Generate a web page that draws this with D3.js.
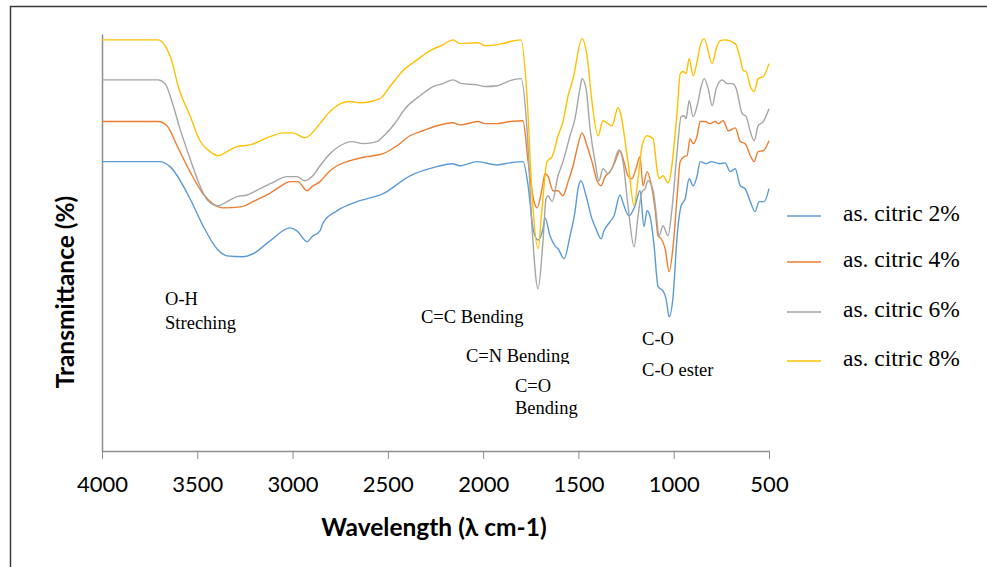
<!DOCTYPE html>
<html><head><meta charset="utf-8">
<script src="https://cdn.jsdelivr.net/npm/d3@7"></script>
<style>body{margin:0;background:#fff}svg{display:block}</style>
</head><body>
<script>
// wavenumber (cm-1) and transmittance (relative %) pairs
const wn2 = [4000,3696,3643,3538,3470,3397,3344,3260,3208,3118,3013,2977,2924,2898,2856,2840,2767,2662,2525,2384,2242,2163,2121,2032,1927,1859,1791,1764,1738,1712,1686,1675,1649,1623,1607,1575,1544,1518,1502,1487,1460,1429,1408,1381,1366,1334,1313,1282,1261,1235,1203,1177,1156,1140,1124,1103,1082,1056,1040,1024,1003,982,961,940,919,898,877,861,830,803,777,756,730,704,677,651,625,598,573,552,525,500];
const t2  = [69.4,69.4,68.2,60.5,54.0,48.5,46.8,46.6,47.3,50.4,53.5,52.8,50.2,51.4,52.8,54.7,57.6,59.8,61.7,66.0,68.2,68.9,68.4,69.4,68.6,69.1,69.4,63.6,53.3,50.6,53.3,55.9,51.6,49.2,48.5,46.1,51.6,57.4,62.9,64.8,61.2,55.7,53.3,50.9,52.8,55.0,56.4,61.4,58.8,56.4,58.8,62.4,53.8,57.6,56.2,49.2,39.4,38.4,36.5,32.2,37.2,51.6,58.8,60.5,65.3,63.6,66.0,69.4,68.9,69.4,69.1,68.9,69.1,67.0,67.7,63.6,62.9,59.8,57.4,59.8,59.8,62.9];

const wn4 = [4000,3706,3659,3606,3538,3470,3418,3365,3265,3208,3134,3066,3013,2972,2924,2898,2856,2819,2767,2699,2609,2525,2452,2384,2316,2242,2158,2121,2027,1990,1927,1859,1791,1764,1733,1717,1691,1675,1659,1633,1607,1581,1554,1528,1507,1481,1455,1429,1402,1381,1360,1334,1308,1282,1261,1240,1219,1198,1177,1161,1140,1119,1098,1082,1066,1045,1024,1003,982,966,945,930,914,898,877,861,835,809,782,767,740,714,677,651,625,598,578,557,530,500];
const t4  = [79.0,79.0,78.0,73.2,67.0,61.7,59.3,58.3,58.6,59.8,61.4,63.4,64.6,64.6,62.4,63.4,64.6,66.5,68.4,69.6,70.6,71.3,73.2,75.6,76.8,78.0,78.7,78.2,79.0,78.5,78.5,79.0,79.2,69.4,59.8,58.3,62.9,66.5,65.8,62.4,62.4,61.2,64.6,68.4,72.5,76.3,73.2,69.4,64.8,63.6,65.8,67.0,69.4,72.0,69.4,66.0,65.3,67.7,70.6,63.6,67.0,64.1,58.1,51.6,50.9,48.5,43.0,49.2,61.2,69.4,70.6,70.8,74.9,73.7,75.6,79.0,79.0,78.5,79.0,78.5,79.2,76.8,77.5,74.2,73.7,70.8,69.4,71.8,72.0,74.4];

const wn6 = [4000,3706,3669,3633,3591,3538,3486,3444,3391,3344,3292,3239,3171,3108,3029,2977,2935,2898,2856,2804,2751,2688,2630,2557,2525,2473,2400,2331,2263,2211,2158,2111,2032,1990,1927,1896,1859,1801,1770,1743,1712,1686,1670,1659,1638,1607,1581,1544,1518,1492,1481,1460,1439,1413,1392,1371,1345,1324,1287,1266,1240,1208,1187,1166,1150,1135,1108,1093,1077,1056,1030,1009,982,961,945,935,919,898,877,856,840,819,798,777,746,719,693,672,641,620,598,578,557,530,500];
const t6  = [89.0,89.0,88.1,83.8,77.3,70.1,63.6,60.0,58.8,59.8,61.0,61.4,62.9,64.3,65.8,65.8,64.8,65.8,68.4,71.3,73.2,74.2,73.7,74.2,75.4,78.0,82.6,85.2,87.4,88.1,89.0,88.1,87.8,87.4,87.6,88.1,88.8,89.3,77.3,53.3,38.9,50.2,60.5,61.2,59.8,66.0,69.4,75.6,79.7,86.9,89.3,86.9,77.3,69.4,64.8,67.7,66.5,67.7,72.2,69.4,58.8,49.0,56.4,62.2,62.9,64.8,62.4,57.4,51.6,54.0,51.6,58.1,71.8,80.2,80.4,79.7,84.0,80.2,82.8,87.4,89.3,86.9,82.8,86.9,89.0,88.1,88.1,86.9,80.9,80.2,76.6,74.4,78.0,79.0,82.1];

const wn8 = [4000,3706,3669,3633,3601,3538,3486,3433,3391,3344,3292,3223,3118,3050,2998,2935,2856,2814,2767,2699,2646,2541,2489,2421,2347,2279,2211,2158,2121,2027,1990,1896,1859,1801,1770,1743,1712,1691,1665,1638,1607,1581,1554,1528,1481,1455,1429,1397,1371,1324,1292,1240,1208,1187,1166,1140,1108,1088,1077,1056,1030,982,966,951,935,919,898,877,861,840,798,777,756,730,677,651,635,620,598,578,557,530,500];
const t8  = [98.6,98.6,97.2,93.4,87.6,80.4,74.4,71.8,70.8,71.8,73.0,73.4,75.4,76.3,76.3,75.1,78.5,80.9,82.8,83.8,83.5,84.5,87.4,91.2,93.8,96.0,97.4,98.6,97.7,97.9,97.2,97.7,98.2,98.6,85.2,61.2,48.5,58.1,69.4,70.6,75.6,79.0,85.2,89.3,98.9,94.8,83.8,75.6,79.2,78.0,82.3,69.4,58.8,65.3,73.2,75.6,74.9,67.7,65.3,66.0,64.3,81.4,90.5,91.0,90.5,94.1,90.0,93.4,97.2,98.9,92.9,96.5,98.4,98.6,97.7,94.1,91.2,91.0,87.4,86.2,89.3,89.8,92.9];

const seriesNames = ["as. citric 2%","as. citric 4%","as. citric 6%","as. citric 8%"];
const seriesColors = ["#5B9BD5","#ED7D31","#A5A5A5","#FFC000"];
const xTicks = [4000,3500,3000,2500,2000,1500,1000,500];
const annotations = [
  {t:"O-H", w:3669, v:36.0},
  {t:"Streching", w:3669, v:30.2},
  {t:"C=C Bending", w:2326, v:31.7},
  {t:"C=N Bending", w:2090, v:22.3, clip:true},
  {t:"C=O", w:1833, v:15.1},
  {t:"Bending", w:1833, v:9.8},
  {t:"C-O", w:1166, v:26.4},
  {t:"C-O ester", w:1166, v:18.9}
];

const W = 987, H = 567;
const svg = d3.select("body").append("svg").attr("width", W).attr("height", H);

// outer frame (left and top edges visible)
svg.append("path").attr("d", `M10.5,${H} L10.5,6.5 L${W},6.5`).attr("fill","none").attr("stroke","#3a3a3a").attr("stroke-width",1.5);

const x = d3.scaleLinear().domain([4000, 500]).range([102, 769]);
const y = d3.scaleLinear().domain([0, 100]).range([451, 34]);

// x axis
const xAxis = d3.axisBottom(x).tickValues(xTicks).tickFormat(d3.format("d")).tickSize(8).tickSizeOuter(0).tickPadding(17);
const gx = svg.append("g").attr("transform", `translate(0,${y(0)})`).call(xAxis);
gx.select(".domain").attr("stroke","#8c8c8c").attr("stroke-width",1.5);
gx.selectAll(".tick line").attr("stroke","#8c8c8c").attr("stroke-width",1);
gx.selectAll(".tick text").attr("font-family","Lato, Carlito, sans-serif").attr("font-size",22).attr("fill","#000");

// y axis (line only)
const yAxis = d3.axisLeft(y).tickValues([]).tickSizeOuter(0);
const gy = svg.append("g").attr("transform", `translate(${x(4000)},0)`).call(yAxis);
gy.select(".domain").attr("stroke","#8c8c8c").attr("stroke-width",1.5);

// axis titles
svg.append("text").attr("x", 434).attr("y", 536).attr("text-anchor","middle")
  .attr("font-family","Lato, Carlito, sans-serif").attr("font-weight","bold").attr("font-size",24.5)
  .text("Wavelength (λ cm-1)");
svg.append("text").attr("transform","translate(74,292) rotate(-90)").attr("text-anchor","middle")
  .attr("font-family","Lato, Carlito, sans-serif").attr("font-weight","bold").attr("font-size",24.5)
  .text("Transmittance (%)");

// series
const line = d3.line().x(d => x(d[0])).y(d => y(d[1])).curve(d3.curveMonotoneX);
const data = [d3.zip(wn2,t2), d3.zip(wn4,t4), d3.zip(wn6,t6), d3.zip(wn8,t8)];
data.forEach((d,i) => {
  svg.append("path").datum(d).attr("d", line).attr("fill","none")
    .attr("stroke", seriesColors[i]).attr("stroke-width",1.4);
});

// annotations
svg.append("clipPath").attr("id","cnclip").append("rect").attr("x",0).attr("y",0).attr("width",W).attr("height",364);
annotations.forEach(a => {
  const t = svg.append("text").attr("x", x(a.w)).attr("y", y(a.v))
    .attr("font-family","'Liberation Serif','Times New Roman',serif").attr("font-size",18.5)
    .attr("dominant-baseline","middle").text(a.t);
  if (a.clip) t.attr("clip-path","url(#cnclip)");
});

// legend
const lg = svg.append("g");
seriesNames.forEach((n,i) => {
  const yy = [216, 262, 312, 361][i];
  lg.append("line").attr("x1",787).attr("x2",821).attr("y1",yy).attr("y2",yy)
    .attr("stroke",seriesColors[i]).attr("stroke-width",1.4);
  lg.append("text").attr("x",843).attr("y",yy).attr("dominant-baseline","middle")
    .attr("font-family","'Liberation Serif','Times New Roman',serif").attr("font-size",23.5)
    .text(n);
});
</script>
</body></html>
